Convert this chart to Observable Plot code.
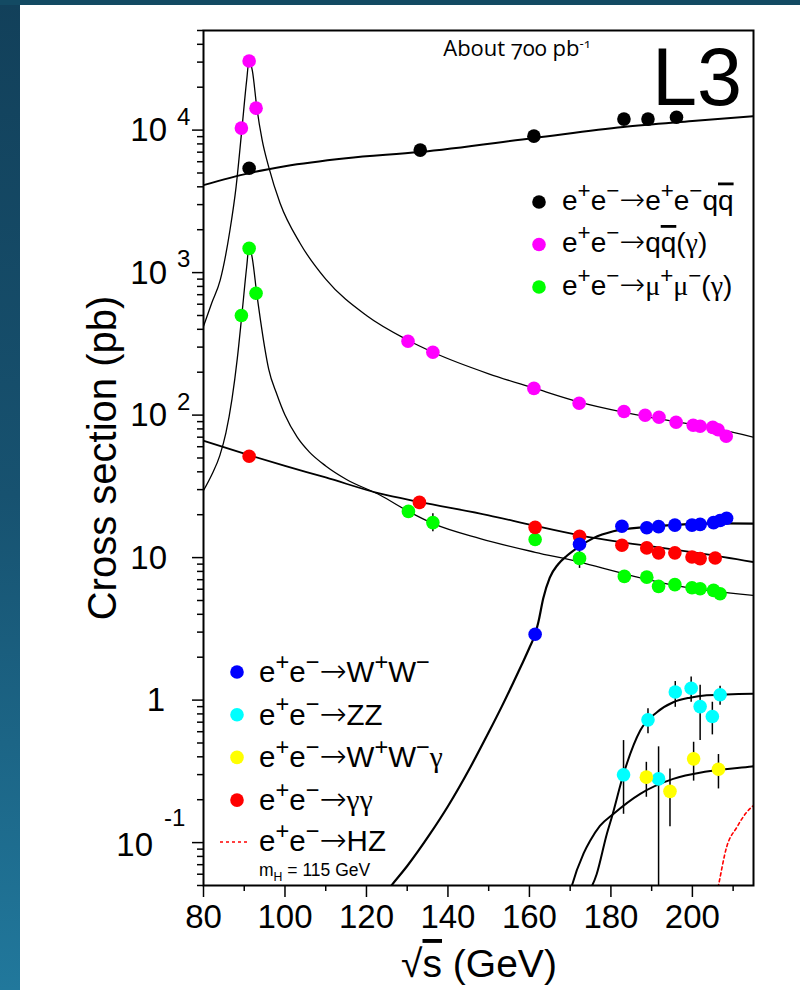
<!DOCTYPE html>
<html><head><meta charset="utf-8">
<script src="https://cdn.jsdelivr.net/npm/d3@7"></script>
<script src="https://cdn.jsdelivr.net/npm/@observablehq/plot@0.6"></script>
<style>
html,body{margin:0;padding:0;background:#fff;width:800px;height:990px;overflow:hidden}
#wrap{position:relative;width:800px;height:990px}
#left{position:absolute;left:0;top:0;width:20px;height:990px;background:linear-gradient(#12405a,#175270 50%,#21789c);z-index:2}
#top{position:absolute;left:0;top:0;width:800px;height:5px;background:#134a63;z-index:2}
#chart{position:absolute;left:0;top:0}
</style></head><body><div id="wrap"><div id="left"></div><div id="top"></div><div id="chart"></div></div>
<script>
// ---------- data (sqrt(s) in GeV, cross section in pb) ----------
const eeqqE = [91.2,133.2,161.1,183.2,189.1,196.1];
const eeqqV = [5400,7240,9070,11950,11950,12300];
const qqE = [89.3,91.2,92.9,130.2,136.3,161.1,172.2,183.2,188.4,191.8,196.0,200.2,201.9,205.0,206.3,208.3];
const qqV = [10330,30550,14260,330,276,154,121,106,99.7,96.6,89,84.8,83.5,82,79,71];
const mumuE = [89.3,91.2,92.9,130.3,136.3,161.4,172.3,183.3,188.8,191.7,195.7,199.9,201.9,205.2,206.8];
const mumuV = [500,1480,716,21.1,17.6,13.4,9.87,7.38,7.29,6.28,6.46,6.15,6.05,5.89,5.58];
const mumuErrE = [136.3,172.3];
const mumuErrLo = [15.2,8.4];
const mumuErrHi = [20.3,11.5];
const ggE = [91.2,133.0,161.4,172.3,182.7,188.8,191.7,195.7,199.9,201.9,205.6];
const ggV = [51.4,24.4,16.3,14.1,12.2,11.7,10.8,10.8,10.1,9.84,9.94];
const wwE = [161.4,172.3,182.7,188.8,191.7,195.7,199.9,201.9,205.2,206.8,208.4];
const wwV = [2.90,12.4,16.6,16.2,16.5,16.9,16.9,17.1,17.6,18.2,18.9];
const zzE = [183.1,189.1,191.7,195.8,199.7,201.9,204.9,206.8];
const zzV = [0.299,0.727,0.28,1.14,1.21,0.90,0.767,1.09];
const zzLo = [0.158,0.58,0.03,0.89,0.966,0.52,0.57,0.92];
const zzHi = [0.52,0.87,0.47,1.35,1.45,1.27,0.966,1.25];
const wwgE = [188.7,194.5,200.3,206.4];
const wwgV = [0.288,0.229,0.387,0.327];
const wwgLo = [0.208,0.129,0.27,0.238];
const wwgHi = [0.366,0.329,0.506,0.415];

// theory curves
const cEeqqE = [80,91.2,100,115,133,161,183,200,215];
const cEeqqV = [4110,4990,5580,6350,7010,8790,10500,11570,12540];
const cQqE = [80,82,84.1,86.5,88,89.4,90.6,91.2,92.0,93.1,94.4,96,98.8,103.7,110,120,130.2,136.3,150,161,172,183,190,200,207,215];
const cQqV = [420,610,885,1990,4000,10000,22400,31000,26000,14300,8500,5520,3070,1607,900,500,335,276,195,155,124,105,96,86,79,70];
const cMumuE = [80,82,84,85.5,87,88.3,89.4,90.6,91.2,92.0,93.1,94,95,96,98,100,103,106,110,115,123.4,130.3,136.4,147.9,161.4,172.3,183.2,195.7,215];
const cMumuV = [29.6,38,52,75,130,250,500,1100,1530,1250,700,460,300,210,140,100,70,55,44,35.5,27.4,21.1,17.3,13.6,10.9,9.3,7.7,6.38,5.43];
const cGgE = [80,91,100,110,123.4,133,150,161,172,182,190,202,215];
const cGgV = [66,52.5,44,36.5,28.1,24.6,19.8,16.8,14.4,12.9,12.0,10.7,9.3];
const cWwE = [125.0,126.2,130,135.6,140,145.5,150,153.2,156,158.1,160,161.4,162.2,163.4,165,167,169.2,172.3,175.7,180.6,188.8,195,205,215];
const cWwV = [0.0455,0.0503,0.0685,0.115,0.18,0.338,0.594,0.90,1.32,1.77,2.33,2.90,3.53,5.19,7.24,8.95,10.3,12.0,13.7,15.3,16.4,16.9,17.4,17.3];
const cZzE = [173.5,176.5,179,180.2,183.1,187.2,191.3,195.3,199.4,203.5,215];
const cZzV = [0.04,0.06,0.115,0.15,0.303,0.612,0.823,0.966,1.04,1.08,1.11];
const cWwgE = [169.8,170.2,173.3,174.9,177.3,180.6,187.2,195.3,203.5,214.6,215];
const cWwgV = [0.042,0.047,0.084,0.103,0.131,0.159,0.22,0.28,0.315,0.342,0.343];
const cHzE = [206.0,206.4,208.4,210.9,213.3,215];
const cHzV = [0.044,0.05,0.093,0.128,0.163,0.182];

// axis ticks and labels
const xMajor = [80,100,120,140,160,180,200];
const xMinor = [90,110,130,150,170,190,210];
const yMajor = [0.1,1,10,100,1000,10000];
const yBase = ["10","1","10","10","10","10"];
const yExp = ["-1","","","2","3","4"];
const yMinor = [0.05,0.06,0.07,0.08,0.09];
[0.1,1,10,100,1000].forEach(d => { for (let k = 2; k <= 9; k++) yMinor.push(+(d*k).toPrecision(3)); });
[20000,30000,40000,50000].forEach(v => yMinor.push(v));

const legendTop = [
  {label: "e^{+}e^{−}→e^{+}e^{−}q\\bar{q}", color: "#000000"},
  {label: "e^{+}e^{−}→q\\bar{q}(γ)", color: "#ff00ff"},
  {label: "e^{+}e^{−}→μ^{+}μ^{−}(γ)", color: "#00ff00"}
];
const legendBottom = [
  {label: "e^{+}e^{−}→W^{+}W^{−}", color: "#0000ff"},
  {label: "e^{+}e^{−}→ZZ", color: "#00ffff"},
  {label: "e^{+}e^{−}→W^{+}W^{−}γ", color: "#ffff00"},
  {label: "e^{+}e^{−}→γγ", color: "#ff0000"}
];

// ---------- helpers ----------
const pts = (xs, ys) => xs.map((x, i) => ({x, y: ys[i]}));
const errs = (xs, lo, hi) => xs.map((x, i) => ({x, lo: lo[i], hi: hi[i]}));
const curve = (xs, ys, w) => Plot.line(pts(xs, ys), {x: "x", y: "y", curve: "monotone-x", stroke: "black", strokeWidth: w, clip: true});
const dots = (xs, ys, c) => Plot.dot(pts(xs, ys), {x: "x", y: "y", r: 6.8, fill: c, stroke: "none", clip: true});
const bars = (xs, lo, hi) => Plot.ruleX(errs(xs, lo, hi), {x: "x", y1: "lo", y2: "hi", stroke: "black", strokeWidth: 1.5, clip: true});

const plot = Plot.plot({
  width: 800, height: 990,
  marginTop: 30, marginBottom: 105, marginLeft: 203, marginRight: 47,
  style: {background: "transparent", fontFamily: "'Liberation Sans', Arial, sans-serif", color: "black", overflow: "visible"},
  x: {domain: [80, 215], label: null},
  y: {type: "log", domain: [0.05, 50000], label: null},
  marks: [
    Plot.axisX({ticks: xMajor, tickSize: 12, tickFormat: () => "", strokeWidth: 1.5, label: null}),
    Plot.axisX({ticks: xMinor, tickSize: 6, tickFormat: () => "", strokeWidth: 1.5, label: null}),
    Plot.axisY({ticks: yMajor, tickSize: 11, tickFormat: () => "", strokeWidth: 1.5, label: null}),
    Plot.axisY({ticks: yMinor, tickSize: 6, tickFormat: () => "", strokeWidth: 1.5, label: null}),
    Plot.text(xMajor, {x: d => d, frameAnchor: "bottom", dy: 32, text: d => String(d), fontSize: 33, lineAnchor: "middle", fill: "black"}),
    curve(cEeqqE, cEeqqV, 2),
    curve(cQqE, cQqV, 1.3),
    curve(cMumuE, cMumuV, 1.3),
    curve(cGgE, cGgV, 1.8),
    curve(cWwE, cWwV, 2.2),
    curve(cZzE, cZzV, 2),
    curve(cWwgE, cWwgV, 2),
    Plot.line(pts(cHzE, cHzV), {x: "x", y: "y", curve: "monotone-x", stroke: "#ff0000", strokeWidth: 1.6, strokeDasharray: "3,3", clip: true}),
    bars(mumuErrE, mumuErrLo, mumuErrHi),
    bars(zzE, zzLo, zzHi),
    bars(wwgE, wwgLo, wwgHi),
    dots(eeqqE, eeqqV, "#000000"),
    dots(qqE, qqV, "#ff00ff"),
    dots(mumuE, mumuV, "#00ff00"),
    dots(ggE, ggV, "#ff0000"),
    dots(wwE, wwV, "#0000ff"),
    dots(zzE, zzV, "#00ffff"),
    dots(wwgE, wwgV, "#ffff00"),
    Plot.frame({stroke: "black", strokeWidth: 2})
  ]
});
document.getElementById("chart").appendChild(plot);

// ---------- annotations ----------
const svg = d3.select(plot);
const ys = plot.scale("y");
const g = svg.append("g").attr("font-family", "'Liberation Sans', Arial, sans-serif")
  .attr("fill", "black").attr("text-anchor", "start");

function rich(parent, str, x, y, size) {
  const t = parent.append("text").attr("x", x).attr("y", y).attr("font-size", size).attr("text-anchor", "start");
  let cur = 0;
  const re = /\^\{([^}]*)\}|_\{([^}]*)\}|\\bar\{([^}]*)\}|([^\^_\\]+)/g;
  const add = (txt, off, fs, deco) => {
    txt.split(/([γμ]+|→)/).filter(s => s.length).forEach(p => {
      const ts = t.append("tspan").text(p).attr("dy", off - cur);
      cur = off;
      if (fs) ts.attr("font-size", fs);
      if (/[γμ]/.test(p)) ts.attr("font-family", "'Liberation Serif', 'DejaVu Serif', serif");
      if (p === "→") ts.attr("font-family", "'DejaVu Sans', sans-serif").attr("font-weight", 200).attr("font-size", 1.1 * size);
      if (deco) ts.style("text-decoration", "overline");
    });
  };
  let m;
  while ((m = re.exec(str))) {
    if (m[1] != null) add(m[1], -0.42 * size, 0.8 * size);
    else if (m[2] != null) add(m[2], 0.3 * size, 0.7 * size);
    else if (m[3] != null) add(m[3], 0, null, true);
    else add(m[4], 0, null);
  }
  return t;
}

// y tick labels
yMajor.forEach((v, i) => {
  const yy = ys.apply(v);
  const neg = yExp[i].startsWith("-");
  const baseEnd = neg ? 153 : (yBase[i] === "1" ? 165 : 167);
  g.append("text").attr("x", baseEnd).attr("y", yy + (neg ? 2 : 0)).attr("dy", "0.36em")
    .attr("text-anchor", "end").attr("font-size", 33).text(yBase[i]);
  if (yExp[i]) {
    g.append("text").attr("x", neg ? 164 : 177).attr("y", yy - (neg ? 25 : 13.5)).attr("dy", "0.36em")
      .attr("text-anchor", "start").attr("font-size", 24).text(yExp[i]);
  }
});

// axis titles
g.append("text").attr("transform", "translate(116,458) rotate(-90)").attr("text-anchor", "middle")
  .attr("font-size", 40).text("Cross section (pb)");
rich(g, "√\\bar{s} (GeV)", 479, 977, 39).attr("text-anchor", "middle");

// header texts
const about = g.append("text").attr("x", 517).attr("y", 56).attr("text-anchor", "middle")
  .attr("font-family", "'Open Sans', sans-serif").attr("font-size", 22)
  .style("font-variant-numeric", "oldstyle-nums");
about.append("tspan").text("About 700 pb");
about.append("tspan").attr("dy", -8).attr("font-size", 13).text("-1");
g.append("text").attr("x", 742).attr("y", 105).attr("text-anchor", "end").attr("font-size", 81).text("L3");

// top-right legend
legendTop.forEach((d, i) => {
  const cy = 202 + i * 42.5;
  g.append("circle").attr("cx", 539).attr("cy", cy).attr("r", 6.8).attr("fill", d.color);
  rich(g, d.label, 562, cy + 7.5, 28);
});

// bottom-left legend
legendBottom.forEach((d, i) => {
  const cy = 672 + i * 42.7;
  g.append("circle").attr("cx", 237).attr("cy", cy).attr("r", 6.8).attr("fill", d.color);
  rich(g, d.label, 259, cy + 10, 29.5);
});
g.append("line").attr("x1", 220).attr("x2", 247).attr("y1", 842).attr("y2", 842)
  .attr("stroke", "#ff0000").attr("stroke-width", 1.6).attr("stroke-dasharray", "3,3");
rich(g, "e^{+}e^{−}→HZ", 259, 851, 29.5);
rich(g, "m_{H} = 115 GeV", 259, 876, 17.5);
</script></body></html>
